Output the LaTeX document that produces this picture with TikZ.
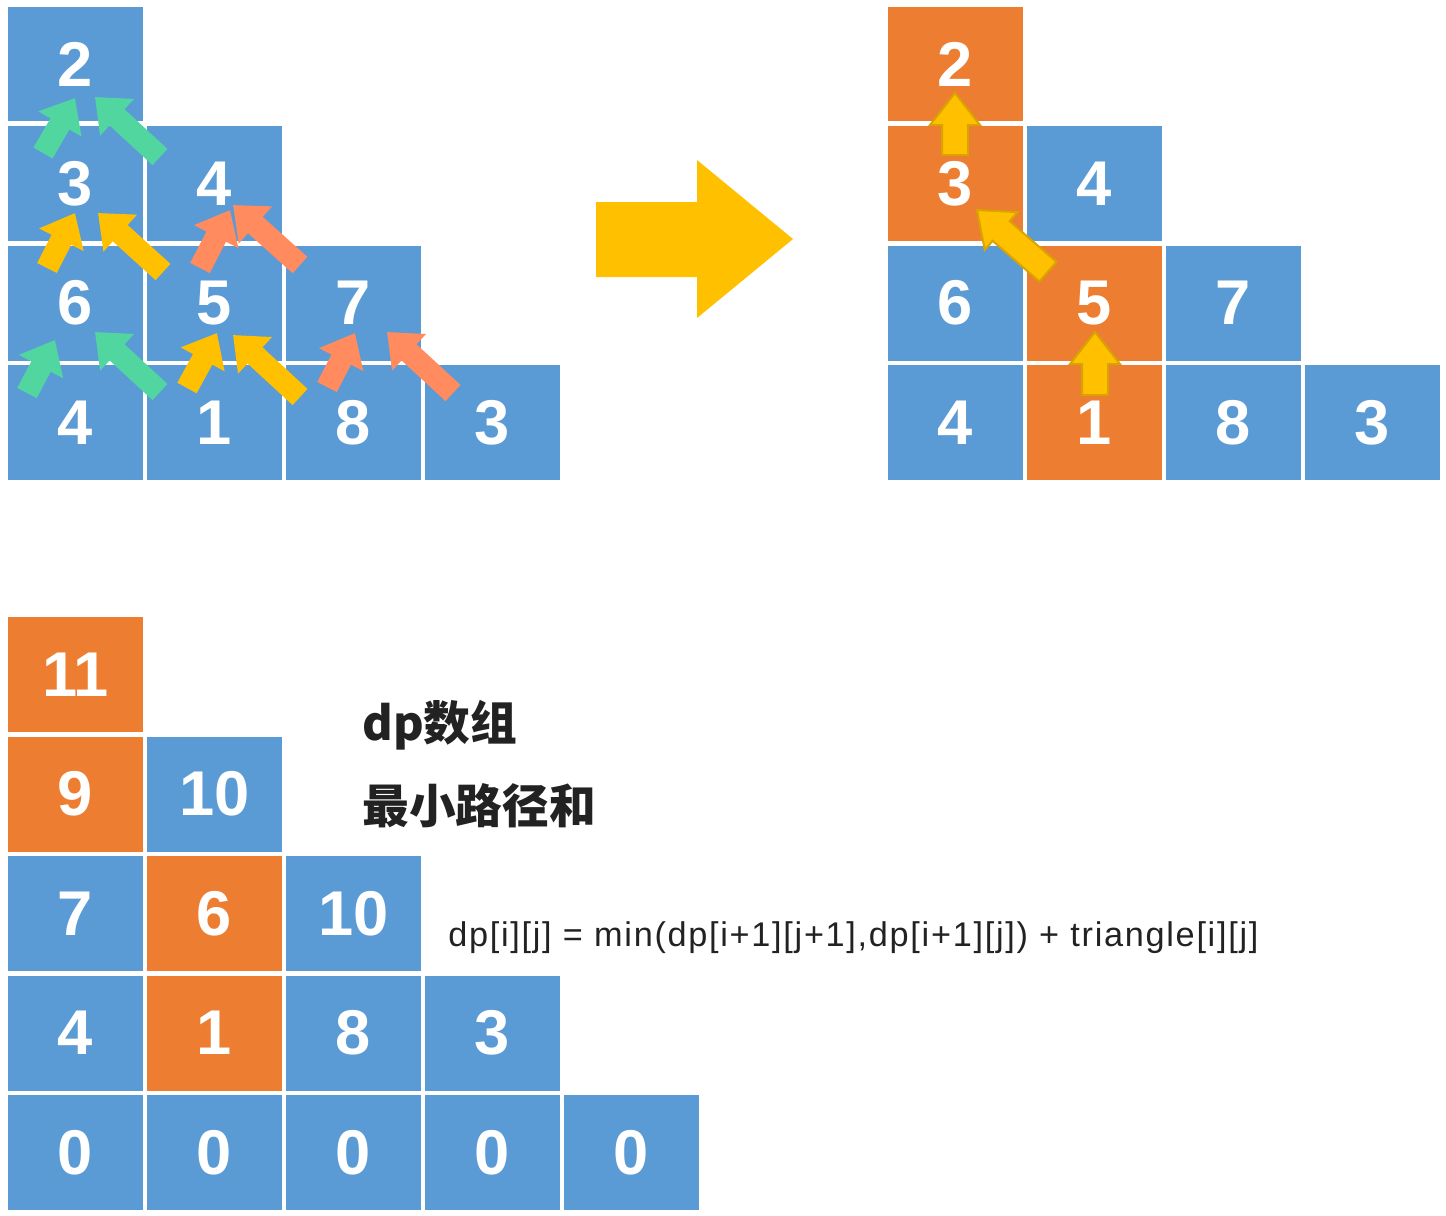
\documentclass[tikz,border=0pt]{standalone}
\usepackage{fontspec}
\setmainfont{Noto Sans CJK SC}
\newfontfamily\digitfont{Liberation Sans}
\newfontfamily\formulafont[LetterSpace=5]{Liberation Sans}
\usetikzlibrary{arrows.meta}

\definecolor{cellblue}{HTML}{5B9BD5}
\definecolor{cellorange}{HTML}{ED7D31}
\definecolor{arrowyellow}{HTML}{FFC000}
\definecolor{arrowedge}{HTML}{D9A300}
\definecolor{arrowgreen}{HTML}{52D6A0}
\definecolor{arrowsalmon}{HTML}{FF8B5E}
\definecolor{textdark}{HTML}{222222}

\begin{document}
\begin{tikzpicture}[
    x=0.02cm, y=-0.02cm,
    cell/.style={minimum width=2.7cm, minimum height=2.3cm, inner sep=0pt,
        text=white, font=\digitfont\fontsize{36}{40}\selectfont\bfseries},
    fat/.style={line width=0.44cm, -{Triangle[length=0.6cm,width=0.96cm]}},
    blockarrow/.pic={
        \filldraw[fill=arrowyellow, draw=arrowedge, line width=0.04cm]
            (0,0) -- (-32,25) -- (-32,13) -- (-#1,13) -- (-#1,-13)
            -- (-32,-13) -- (-32,-25) -- cycle;
    }
]
\useasboundingbox (0,0) rectangle (1446,1215);

% triangle
\foreach \c/\r/\v in {0/0/2, 0/1/3, 1/1/4, 0/2/6, 1/2/5, 2/2/7, 0/3/4, 1/3/1, 2/3/8, 3/3/3}
    \node[cell, fill=cellblue] (l\c\r) at ({75.5+139*\c},{64+119.5*\r}) {\v};

\draw[fat, arrowgreen] (43,153) -- (75,98);
\draw[fat, arrowgreen] (160,157) -- (95,97);
\draw[fat, arrowgreen] (27,393) -- (55,340);
\draw[fat, arrowgreen] (160,392) -- (95,332);

\draw[fat, arrowyellow] (47,268) -- (75,213);
\draw[fat, arrowyellow] (163,272) -- (98,213);
\draw[fat, arrowyellow] (187,388) -- (217,333);
\draw[fat, arrowyellow] (300,397) -- (233,335);

\draw[fat, arrowsalmon] (200,268) -- (230,210);
\draw[fat, arrowsalmon] (300,265) -- (233,205);
\draw[fat, arrowsalmon] (327,387) -- (355,333);
\draw[fat, arrowsalmon] (453,393) -- (387,332);

% big arrow
\fill[arrowyellow] (596,202) -- (697,202) -- (697,160) -- (793,239)
    -- (697,318) -- (697,277) -- (596,277) -- cycle;

% path
\foreach \c/\r/\v/\s in {0/0/2/cellorange, 0/1/3/cellorange, 1/1/4/cellblue,
        0/2/6/cellblue, 1/2/5/cellorange, 2/2/7/cellblue,
        0/3/4/cellblue, 1/3/1/cellorange, 2/3/8/cellblue, 3/3/3/cellblue}
    \node[cell, fill=\s] (r\c\r) at ({955.5+139*\c},{64+119.5*\r}) {\v};

\pic[rotate=90] at (955,93) {blockarrow=62};
\pic[rotate=139] at (977,210) {blockarrow=94};
\pic[rotate=90] at (1095,332) {blockarrow=63};

% dp
\foreach \c/\r/\v/\s in {0/0/11/cellorange, 0/1/9/cellorange, 1/1/10/cellblue,
        0/2/7/cellblue, 1/2/6/cellorange, 2/2/10/cellblue,
        0/3/4/cellblue, 1/3/1/cellorange, 2/3/8/cellblue, 3/3/3/cellblue,
        0/4/0/cellblue, 1/4/0/cellblue, 2/4/0/cellblue, 3/4/0/cellblue, 4/4/0/cellblue}
    \node[cell, fill=\s] (d\c\r) at ({75.5+139*\c},{674.5+119.5*\r}) {\v};

\node[anchor=west, inner sep=0pt, text=textdark, font=\fontsize{26.6}{30}\selectfont\bfseries]
    (title) at (362,725) {dp数组};
\node[anchor=west, inner sep=0pt, text=textdark, font=\fontsize{26.6}{30}\selectfont\bfseries]
    (subtitle) at (362,806) {最小路径和};
\node[anchor=west, inner sep=0pt, text=textdark, font=\formulafont\fontsize{19.5}{23}\selectfont]
    (formula) at (448,938) {dp[i][j] = min(dp[i+1][j+1],dp[i+1][j]) + triangle[i][j]};
\end{tikzpicture}
\end{document}
